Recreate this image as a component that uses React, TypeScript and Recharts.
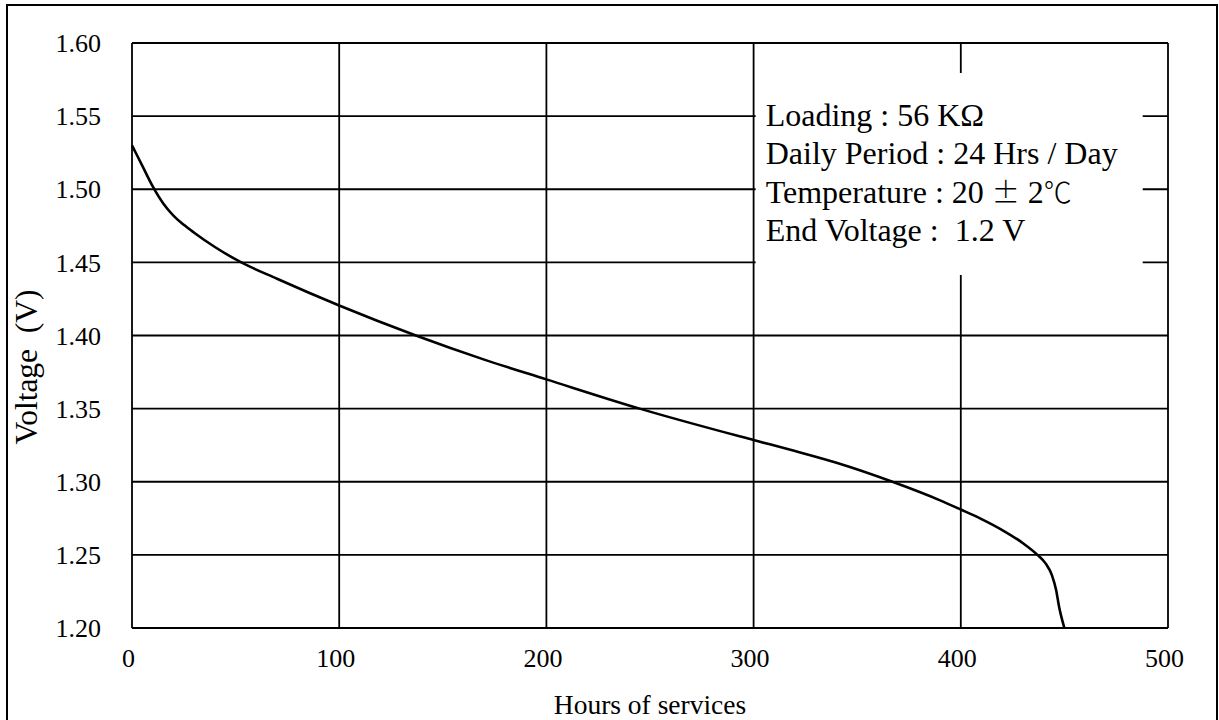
import { LineChart, Line, XAxis, YAxis, CartesianGrid, ReferenceArea } from "recharts";

const hours = [0, 5, 10, 15, 20, 25, 30, 40, 53, 70, 100, 137, 170, 200, 245, 300, 320, 340, 367, 390, 400, 410, 420, 430, 437, 441, 444, 446, 447.5, 449, 450];
const voltage = [1.53, 1.516, 1.502, 1.4905, 1.482, 1.4757, 1.4703, 1.4605, 1.4498, 1.4388, 1.4205, 1.4, 1.3835, 1.37, 1.35, 1.3285, 1.321, 1.313, 1.3, 1.2873, 1.281, 1.2745, 1.267, 1.258, 1.25, 1.244, 1.236, 1.226, 1.214, 1.205, 1.2];

const xTicks = [0, 100, 200, 300, 400, 500];
const yTicks = [1.2, 1.25, 1.3, 1.35, 1.4, 1.45, 1.5, 1.55, 1.6];

// test conditions; the ± and ℃ signs come from a CJK font like the original
const notes: string[][] = [
    ["Loading : 56 KΩ"],
    ["Daily Period : 24 Hrs / Day"],
    ["Temperature : 20 ", "±", " 2", "℃"],
    ["End Voltage :  1.2 V"],
];

// white panel behind the test conditions (data units)
const panelX = [301, 487.8];
const panelY = [1.4414, 1.5795];

const FONT = '"Liberation Serif", "Times New Roman", serif';
const CJK = '"Noto Sans CJK JP", "Noto Sans CJK SC", sans-serif';

const data = hours.map((h, i) => ({ h, v: voltage[i] }));

function NotesLabel(props: any) {
    const vb = props.viewBox || {};
    return (
        <g>
            {notes.map((parts, i) => (
                <text
                    key={i}
                    x={vb.x + 10}
                    y={vb.y + 53 + i * 38.5}
                    fontFamily={FONT}
                    fontSize={32}
                    fill="#000"
                    style={{ whiteSpace: "pre" }}
                >
                    {parts.map((p, j) =>
                        p === "±" || p === "℃" ? (
                            <tspan key={j} fontFamily={CJK} fontWeight={300} fontSize={28}>
                                {p}
                            </tspan>
                        ) : (
                            <tspan key={j}>{p}</tspan>
                        )
                    )}
                </text>
            ))}
        </g>
    );
}

function VoltageLabel() {
    return (
        <text
            x={37}
            y={367}
            transform="rotate(-90 37 367)"
            textAnchor="middle"
            fontFamily={FONT}
            fontSize={31.5}
            fill="#000"
            style={{ whiteSpace: "pre" }}
        >
            Voltage  (V)
        </text>
    );
}

export default function App() {
    return (
        <div style={{ position: "fixed", left: 0, top: 0, width: 1219, height: 720, overflow: "hidden", background: "#fff" }}>
            <div
                style={{
                    position: "absolute",
                    left: 6,
                    top: 4,
                    width: 1212,
                    height: 800,
                    border: "2px solid #000",
                    boxSizing: "border-box",
                }}
            />
            <div style={{ position: "absolute", left: 0, top: 0 }}>
                <LineChart width={1219} height={720} data={data} margin={{ top: 43, right: 51, left: 72, bottom: 0 }}>
                    <CartesianGrid stroke="#000" strokeWidth={1.8} />
                    <XAxis
                        dataKey="h"
                        type="number"
                        domain={[0, 500]}
                        ticks={xTicks}
                        axisLine={false}
                        tickLine={false}
                        tickSize={0}
                        tickMargin={21}
                        height={92}
                        tick={{ fontSize: 26, fill: "#000", fontFamily: FONT, dx: -3.5 }}
                        label={{ value: "Hours of services", position: "insideBottom", offset: 6, fontSize: 27.5, fill: "#000", fontFamily: FONT }}
                    />
                    <YAxis
                        type="number"
                        domain={[1.2, 1.6]}
                        ticks={yTicks}
                        axisLine={false}
                        tickLine={false}
                        tickSize={0}
                        tickMargin={31}
                        width={60}
                        tickFormatter={(v: number) => v.toFixed(2)}
                        tick={{ fontSize: 26, fill: "#000", fontFamily: FONT }}
                        label={{ content: () => <VoltageLabel /> }}
                    />
                    <ReferenceArea
                        x1={panelX[0]}
                        x2={panelX[1]}
                        y1={panelY[0]}
                        y2={panelY[1]}
                        fill="#fff"
                        fillOpacity={1}
                        stroke="none"
                        label={{ content: (p: any) => <NotesLabel {...p} /> }}
                    />
                    <Line
                        type="monotone"
                        dataKey="v"
                        stroke="#000"
                        strokeWidth={2.6}
                        dot={false}
                        activeDot={false}
                        isAnimationActive={false}
                    />
                </LineChart>
            </div>
        </div>
    );
}
